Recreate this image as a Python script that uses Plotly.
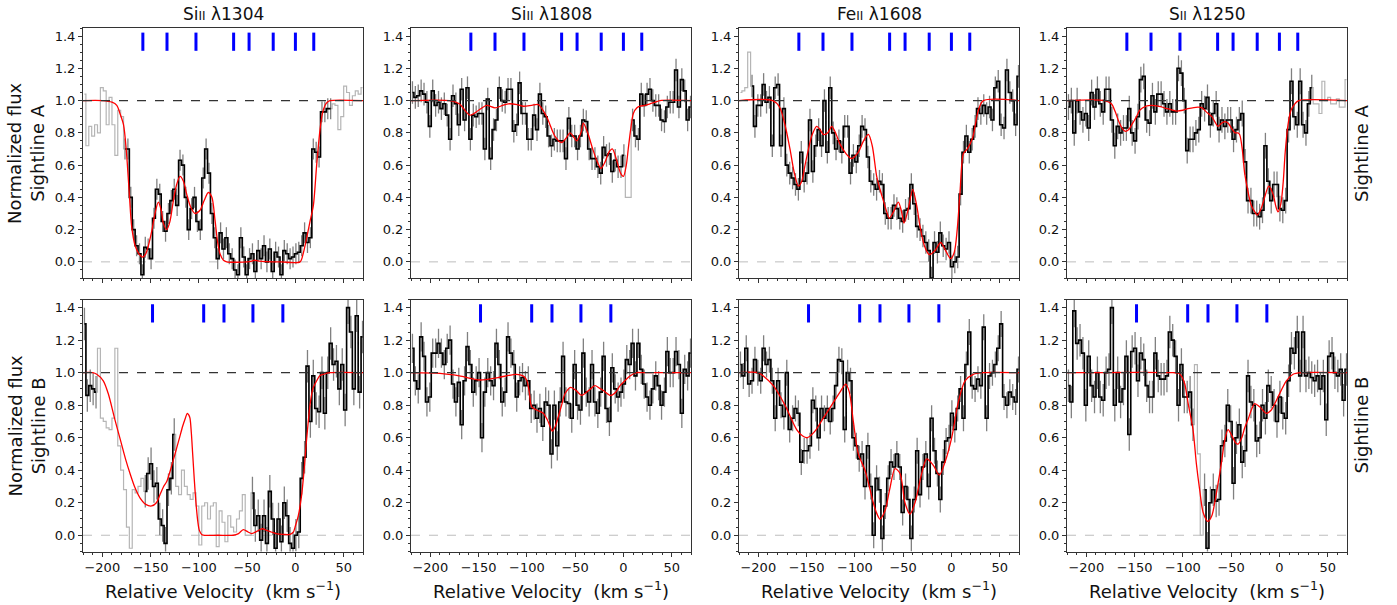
import plotly.graph_objects as go

W, H = 1397, 605

# ---------------- data ----------------
VEL_START = -218.5   # centre of the first velocity bin (km/s)
VEL_STEP = 3.0       # bin width (km/s)
N_BINS = 97
VEL = [VEL_START + VEL_STEP * i for i in range(N_BINS)]

LINE_TITLES = ["Si<span style='font-size:12px'>II</span> λ1304",
               "Si<span style='font-size:12px'>II</span> λ1808",
               "Fe<span style='font-size:12px'>II</span> λ1608",
               "S<span style='font-size:12px'>II</span> λ1250"]
SIGHTLINES = ["A", "B"]

COMP_A = [-158, -133, -103, -64, -48, -23, 0, 19]
COMP_B = [-148, -95, -74, -44, -13]

# normalized flux, sightline A
F_1A = [1.04, 0.72, 0.84, 0.78, 0.85, 0.80, 1.08, 1.06, 0.85, 1.02,
        0.85, 0.66, 0.94, 0.90, 0.70, 0.70, 0.40, 0.20, 0.10, 0.05,
        -0.08, 0.09, 0.08, 0.02, 0.27, 0.45, 0.42, 0.25, 0.19, 0.30,
        0.38, 0.45, 0.35, 0.63, 0.60, 0.40, 0.20, 0.33, 0.40, 0.25,
        0.20, 0.52, 0.70, 0.55, 0.30, 0.15, 0.02, 0.18, 0.08, 0.15,
        0.05, 0.02, -0.05, -0.08, 0.15, 0.03, -0.08, 0.02, 0.05, -0.06,
        0.07, 0.02, 0.10, 0.00, 0.08, -0.06, 0.06, 0.03, -0.08, 0.07,
        0.05, 0.02, 0.03, 0.05, 0.06, 0.10, 0.18, 0.12, 0.15, 0.70,
        0.68, 0.65, 0.93, 0.93, 0.95, 0.95, 0.98, 0.97, 0.82, 0.90,
        1.09, 1.05, 0.97, 1.03, 1.06, 1.04, 1.08]
F_2A = [1.05, 1.02, 1.03, 1.06, 1.04, 0.99, 0.84, 1.06, 0.97, 0.99,
        0.95, 0.98, 0.91, 0.76, 1.03, 0.98, 0.85, 1.07, 0.88, 1.08,
        0.76, 0.91, 0.90, 0.92, 0.92, 0.70, 1.01, 0.64, 0.82, 0.88,
        1.08, 1.00, 0.99, 1.07, 1.07, 0.81, 0.85, 1.11, 0.92, 0.92,
        0.76, 0.76, 0.91, 0.82, 1.04, 0.92, 0.90, 0.78, 0.72, 0.76,
        0.75, 0.75, 0.75, 0.64, 0.89, 0.78, 0.78, 0.70, 0.78, 0.88,
        0.87, 0.70, 0.64, 0.64, 0.59, 0.55, 0.71, 0.66, 0.67, 0.56,
        0.63, 0.59, 0.59, 0.66, 0.40, 0.40, 0.88, 0.78, 0.76, 1.04,
        0.97, 1.04, 1.07, 1.00, 0.97, 0.97, 0.88, 0.87, 0.96, 0.99,
        0.99, 1.19, 0.96, 1.13, 1.06, 0.88, 0.96]
F_3A = [1.05, 1.06, 1.08, 1.30, 1.09, 0.84, 0.97, 0.97, 1.10, 0.99,
        1.02, 0.72, 1.08, 1.10, 0.72, 0.95, 0.60, 0.55, 0.52, 0.48,
        0.45, 0.68, 0.50, 0.55, 0.88, 0.56, 0.72, 0.82, 0.72, 1.00,
        0.68, 1.08, 0.80, 0.70, 0.75, 0.68, 0.84, 0.84, 0.55, 0.66,
        0.62, 0.72, 0.84, 0.82, 0.65, 0.50, 0.48, 0.45, 0.50, 0.48,
        0.30, 0.27, 0.27, 0.35, 0.33, 0.27, 0.25, 0.32, 0.33, 0.48,
        0.36, 0.22, 0.20, 0.16, 0.12, 0.07, -0.10, 0.12, 0.06, 0.18,
        0.10, 0.08, 0.12, -0.03, 0.00, 0.03, 0.42, 0.68, 0.78, 0.68,
        0.76, 0.84, 0.95, 0.92, 0.97, 0.92, 0.96, 0.88, 1.08, 1.12,
        0.85, 0.83, 1.19, 1.05, 1.00, 0.85, 1.15]
F_4A = [0.96, 1.00, 0.80, 1.00, 0.93, 0.88, 0.92, 0.83, 1.05, 0.96,
        1.07, 0.98, 0.93, 1.07, 1.07, 0.88, 0.72, 0.84, 0.80, 0.83,
        0.83, 0.95, 0.80, 0.75, 0.90, 1.13, 1.15, 0.88, 0.86, 1.03,
        0.93, 1.04, 1.04, 0.98, 0.93, 0.98, 0.93, 0.93, 1.20, 1.17,
        1.00, 0.69, 0.76, 0.76, 0.80, 0.82, 0.98, 0.95, 1.02, 0.85,
        0.92, 0.98, 0.82, 0.88, 0.84, 0.88, 0.88, 0.76, 0.82, 0.88,
        0.92, 0.62, 0.38, 0.38, 0.30, 0.30, 0.28, 0.32, 0.72, 0.50,
        0.38, 0.48, 0.48, 0.33, 0.32, 0.38, 0.82, 1.12, 0.90, 0.85,
        1.12, 0.85, 0.80, 0.98, 1.08, 0.98, 0.98, 0.92, 1.12, 1.00,
        1.02, 0.98, 0.98, 1.01, 0.96, 0.96, 1.13]
# normalized flux, sightline B
F_1B = [1.30, 0.86, 0.92, 0.90, 0.88, 1.15, 0.72, 0.70, 0.66, 0.65,
        0.72, 1.15, 0.55, 0.40, 0.28, 0.05, -0.08, 0.28, 0.26, 0.30,
        0.35, 0.27, 0.38, 0.44, 0.30, 0.32, 0.10, 0.06, -0.05, 0.28,
        0.35, 0.62, 0.30, 0.25, 0.40, 0.30, 0.25, 0.22, 0.26, 0.18,
        -0.06, 0.18, 0.20, 0.10, 0.18, 0.20, -0.07, 0.15, 0.08, -0.04,
        0.12, 0.05, 0.02, 0.10, 0.15, 0.25, 0.00, 0.00, 0.26, 0.06,
        0.12, -0.03, 0.12, -0.05, 0.27, 0.10, -0.08, 0.10, -0.04, 0.20,
        0.12, -0.05, -0.08, 0.00, 0.02, 0.35, 0.48, 1.04, 0.70, 0.98,
        0.78, 0.76, 1.00, 0.75, 1.00, 1.18, 1.05, 1.07, 0.90, 1.05,
        0.77, 1.40, 1.25, 0.90, 1.35, 0.88, 1.22]
F_2B = [1.15, 0.95, 0.90, 1.22, 1.10, 0.82, 0.85, 1.12, 1.12, 1.18,
        1.12, 1.05, 1.15, 1.20, 0.93, 0.82, 0.94, 0.68, 0.95, 1.16,
        1.05, 0.88, 0.95, 1.00, 0.60, 0.88, 1.00, 0.95, 0.92, 1.18,
        1.05, 0.82, 0.88, 1.22, 1.12, 1.05, 0.85, 0.95, 0.97, 0.92,
        0.95, 0.78, 0.80, 0.72, 0.78, 0.67, 0.82, 0.80, 0.50, 0.80,
        0.55, 0.82, 1.10, 0.82, 0.81, 0.72, 1.05, 0.80, 0.77, 1.12,
        0.88, 0.82, 1.05, 0.82, 0.75, 0.88, 1.10, 0.78, 0.70, 1.03,
        0.90, 0.85, 0.88, 0.93, 1.08, 1.05, 1.18, 0.98, 1.18, 1.02,
        0.93, 0.85, 0.80, 0.90, 0.98, 0.92, 0.80, 0.88, 1.13, 1.00,
        1.00, 1.13, 1.05, 0.75, 1.02, 0.98, 1.12]
F_3B = [1.05, 0.98, 1.15, 0.93, 0.95, 1.08, 1.00, 0.95, 1.15, 1.05,
        1.08, 0.95, 0.72, 0.95, 0.80, 0.73, 1.00, 0.65, 0.72, 0.78,
        0.75, 0.45, 0.52, 0.52, 0.55, 0.83, 0.78, 0.60, 0.78, 0.72,
        0.78, 0.70, 0.78, 0.92, 1.08, 1.07, 0.65, 1.00, 0.95, 0.60,
        0.55, 0.47, 0.50, 0.30, 0.55, 0.30, 0.00, 0.35, 0.28, -0.02,
        0.18, 0.35, 0.45, 0.42, 0.50, 0.42, 0.14, 0.30, 0.22, -0.02,
        0.22, 0.52, 0.25, 0.42, 0.50, 0.30, 0.72, 0.52, 0.38, 0.22,
        0.45, 0.58, 0.60, 0.75, 0.65, 0.78, 0.90, 0.72, 1.05, 1.25,
        0.92, 0.90, 0.96, 0.92, 1.28, 0.72, 0.98, 1.00, 1.05, 1.15,
        1.30, 0.85, 0.80, 0.88, 0.85, 0.82, 1.02]
F_4B = [0.92, 0.82, 1.38, 1.18, 1.20, 1.12, 0.80, 1.10, 0.92, 0.85,
        1.00, 0.85, 0.83, 1.00, 1.02, 1.40, 0.80, 1.00, 0.82, 0.90,
        1.10, 0.62, 1.13, 1.15, 0.95, 1.12, 1.08, 0.92, 0.85, 0.85,
        1.12, 0.98, 0.96, 0.96, 0.98, 1.25, 1.20, 1.10, 0.80, 1.05,
        0.85, 0.85, 0.88, 0.68, 1.05, 0.50, 0.00, 0.28, -0.08, 0.20,
        0.28, 0.21, 0.22, 0.55, 0.58, 0.80, 0.70, 0.32, 0.60, 0.68,
        0.45, 0.52, 0.98, 0.82, 0.80, 0.58, 0.60, 0.80, 0.72, 0.92,
        0.88, 0.80, 0.70, 0.85, 0.75, 0.72, 0.95, 1.15, 1.12, 1.25,
        0.98, 1.25, 0.98, 1.00, 0.97, 0.95, 0.98, 0.90, 0.98, 0.71,
        1.10, 1.12, 1.00, 0.98, 1.02, 0.83, 1.02]

# 1-sigma flux uncertainty per panel
SIGMA = [0.065, 0.07, 0.07, 0.08, 0.10, 0.09, 0.08, 0.10]

# velocity ranges used in the fit (drawn black)
FIT_1A = [(-177, 37)]
FIT_2A = [(-220, 2), (8, 70)]
FIT_3A = [(-208, 70)]
FIT_4A = [(-220, 35)]
FIT_1B = [(-220, -205), (-157, -124), (-46, 70)]
FIT_2B = [(-220, 70)]
FIT_3B = [(-220, 70)]
FIT_4B = [(-220, -88), (-79, 70)]

# model profiles (velocity, normalized flux)
MV_1A = [-220, -200, -190, -185, -181.7, -178, -175, -172, -169.6, -166,
         -162, -158.2, -155, -152.3, -148.5, -145.4, -142, -139, -136.8, -133.3,
         -130, -126.4, -123, -119.5, -116, -112.6, -108.5, -104, -98.8, -94.5,
         -90.2, -86.5, -83.3, -80.5, -78.1, -74.5, -71.2, -50, -45, -42,
         -38, -15, 4.8, 8, 11, 15.1, 18.6, 22, 25.5, 28,
         30.6, 33, 35.8, 70]
MF_1A = [1.0, 1.0, 0.99, 0.97, 0.92, 0.85, 0.68, 0.42, 0.22, 0.1,
         0.05, 0.03, 0.05, 0.1, 0.2, 0.3, 0.37, 0.32, 0.24, 0.2,
         0.25, 0.38, 0.48, 0.53, 0.5, 0.42, 0.34, 0.30, 0.32, 0.38,
         0.43, 0.4, 0.26, 0.12, 0.05, 0.01, 0.0, 0.0, 0.005, 0.01,
         0.005, 0.0, 0.0, 0.05, 0.13, 0.25, 0.35, 0.6, 0.82, 0.92,
         0.97, 0.99, 1.0, 1.0]
MV_2A = [-220, -180, -170, -159, -150, -141.6, -133, -125, -119, -110,
         -103.6, -95, -88, -79.5, -71, -64, -59, -55.3, -51, -48.4,
         -44, -41.5, -37, -31.8, -27, -23.2, -19, -15, -11.5, -7,
         -3, 0, 3, 5, 7.5, 10.3, 14, 17.2, 22, 27.5,
         33, 37.9, 70]
MF_2A = [1.0, 1.0, 0.98, 0.91, 0.94, 0.97, 0.955, 0.97, 0.98, 0.975,
         0.965, 0.97, 0.975, 0.9, 0.78, 0.74, 0.77, 0.8, 0.77, 0.75,
         0.8, 0.86, 0.8, 0.7, 0.62, 0.58, 0.62, 0.68, 0.7, 0.63,
         0.55, 0.53, 0.6, 0.7, 0.82, 0.92, 0.955, 0.965, 0.97, 0.98,
         0.99, 1.0, 1.0]
MV_3A = [-220, -185, -178, -172.4, -167.2, -163, -158.5, -155, -151.6, -148,
         -144.7, -139.6, -136, -132.7, -128, -124, -120, -115.4, -109, -103.3,
         -96.4, -91, -86, -82, -77.4, -74, -70.5, -67, -64.3, -60,
         -55, -52, -49.1, -45, -40.1, -36, -32.5, -28, -22.9, -17,
         -11.1, -6, -0.8, 3, 6, 8.9, 12.4, 16.5, 22, 27.9,
         33.1, 70]
MF_3A = [1.0, 1.0, 0.96, 0.85, 0.7, 0.56, 0.47, 0.5, 0.6, 0.7,
         0.78, 0.84, 0.82, 0.79, 0.8, 0.84, 0.8, 0.73, 0.67, 0.64,
         0.68, 0.75, 0.79, 0.72, 0.53, 0.45, 0.38, 0.31, 0.27, 0.31,
         0.37, 0.32, 0.24, 0.32, 0.45, 0.35, 0.22, 0.1, 0.045, 0.07,
         0.12, 0.07, 0.02, 0.06, 0.2, 0.43, 0.67, 0.7, 0.77, 0.94,
         1.0, 1.0]
MV_4A = [-220, -181, -174, -170, -167, -163, -160, -156, -153, -148,
         -144.7, -138, -132.7, -125.7, -116, -106.8, -100, -94.7, -84.3, -80,
         -75.7, -70, -67, -63.6, -60, -56.7, -53, -49.8, -46, -43,
         -41.2, -38.5, -36, -32, -29.1, -25.5, -22.9, -19, -15.3, -11.1,
         -6.6, -3.5, -1.5, 1.5, 4, 6, 8.9, 12, 16, 20,
         70]
MF_4A = [1.0, 1.0, 0.98, 0.93, 0.88, 0.83, 0.81, 0.82, 0.85, 0.9,
         0.94, 0.965, 0.97, 0.965, 0.95, 0.935, 0.94, 0.95, 0.96, 0.955,
         0.93, 0.9, 0.87, 0.84, 0.86, 0.87, 0.86, 0.83, 0.8, 0.8,
         0.79, 0.7, 0.55, 0.42, 0.35, 0.31, 0.29, 0.33, 0.4, 0.47,
         0.42, 0.34, 0.31, 0.36, 0.5, 0.68, 0.85, 0.94, 0.98, 1.0,
         1.0]
MV_1B = [-220, -210, -205.8, -199, -193.8, -186.9, -181, -176, -171.3, -166,
         -161, -155, -148.9, -144, -140.2, -136.5, -133.3, -128.5, -124.7, -120,
         -116.8, -114, -112, -110.5, -109.2, -107.8, -106.4, -104.7, -103, -101,
         -99.5, -97, -95.4, -80, -64.3, -59, -54, -49, -45.3, -38,
         -34, -29.8, -25, -20, -12.5, -5.6, -2, -0.4, 3, 6.5,
         9, 11, 13, 15.1, 18, 22, 25, 28.9, 35.8, 70]
MF_1B = [1.0, 1.0, 0.99, 0.95, 0.87, 0.71, 0.58, 0.47, 0.38, 0.29,
         0.23, 0.19, 0.18, 0.2, 0.25, 0.3, 0.33, 0.42, 0.5, 0.6,
         0.67, 0.72, 0.75, 0.74, 0.72, 0.63, 0.5, 0.34, 0.2, 0.08,
         0.03, 0.005, 0.0, 0.0, 0.0, 0.01, 0.035, 0.02, 0.01, 0.03,
         0.04, 0.03, 0.02, 0.01, 0.005, 0.005, 0.02, 0.05, 0.12, 0.25,
         0.4, 0.55, 0.68, 0.8, 0.9, 0.95, 0.98, 0.99, 1.0, 1.0]
MV_2B = [-220, -190, -170, -148.5, -130, -110.6, -104, -100.2, -97.5, -95,
         -89.8, -82.9, -78, -73.6, -70.5, -67.4, -64, -60.5, -54.6, -49,
         -43.2, -36, -29.4, -25, -20.8, -13.2, -8, -3.5, 1.5, 6.8,
         13.7, 20, 70]
MF_2B = [1.0, 0.995, 0.98, 0.955, 0.97, 0.99, 0.98, 0.955, 0.88, 0.79,
         0.77, 0.75, 0.7, 0.64, 0.67, 0.73, 0.8, 0.87, 0.91, 0.89,
         0.86, 0.89, 0.92, 0.905, 0.89, 0.86, 0.88, 0.92, 0.95, 0.98,
         1.0, 1.0, 1.0]
MV_3B = [-220, -200, -194.8, -184.4, -172.4, -160.3, -154, -149.2, -141.3, -132.7,
         -124, -115.4, -109.5, -105.7, -101.6, -96.4, -89.5, -85, -80.9, -77,
         -74, -68.8, -64, -58.4, -53.2, -48.1, -42.9, -37.7, -30.8, -25.6,
         -18.7, -12.5, -6.6, 0.3, 7.2, 14.1, 22.7, 33.1, 70]
MF_3B = [1.0, 1.0, 0.98, 0.92, 0.8, 0.65, 0.61, 0.6, 0.64, 0.72,
         0.8, 0.88, 0.93, 0.88, 0.7, 0.5, 0.4, 0.3, 0.2, 0.13,
         0.1, 0.15, 0.28, 0.41, 0.38, 0.2, 0.13, 0.2, 0.38, 0.47,
         0.43, 0.37, 0.45, 0.6, 0.82, 0.95, 0.99, 1.0, 1.0]
MV_4B = [-220, -110, -104, -101, -98, -94.5, -89.5, -86, -82.6, -79,
         -74, -70, -67, -63.5, -60.2, -56.7, -53.2, -49, -45.5, -42.9,
         -39, -36, -32, -29.1, -25.6, -20.5, -13.5, -8.4, -1.5, 7.2,
         14.1, 22.7, 70]
MF_4B = [1.0, 1.0, 0.995, 0.975, 0.93, 0.81, 0.65, 0.44, 0.28, 0.14,
         0.085, 0.12, 0.2, 0.32, 0.44, 0.58, 0.65, 0.61, 0.57, 0.56,
         0.6, 0.66, 0.72, 0.77, 0.81, 0.79, 0.75, 0.77, 0.85, 0.95,
         0.99, 1.0, 1.0]

FLUX = [F_1A, F_2A, F_3A, F_4A, F_1B, F_2B, F_3B, F_4B]
FITS = [FIT_1A, FIT_2A, FIT_3A, FIT_4A, FIT_1B, FIT_2B, FIT_3B, FIT_4B]
MODEL_V = [MV_1A, MV_2A, MV_3A, MV_4A, MV_1B, MV_2B, MV_3B, MV_4B]
MODEL_F = [MF_1A, MF_2A, MF_3A, MF_4A, MF_1B, MF_2B, MF_3B, MF_4B]

for f in FLUX:
    assert len(f) == N_BINS, len(f)
for a, b in zip(MODEL_V, MODEL_F):
    assert len(a) == len(b), (len(a), len(b))

# ---------------- layout geometry (pixels) ----------------
COL_X = [(83, 363), (411, 691), (739, 1019), (1067, 1347)]
ROW_Y = [(28, 278), (299.5, 551.5)]
FONT = "DejaVu Sans"
AXCOL = "#333333"


def px_x(p):
    return p / W


def px_y(p):
    return 1 - p / H


fig = go.Figure()
layout = dict(width=W, height=H, margin=dict(l=0, r=0, t=0, b=0), autosize=False,
              paper_bgcolor="white", plot_bgcolor="white", showlegend=False,
              font=dict(family=FONT, color="#111111"))
shapes = []
annotations = []

for k in range(8):
    r, c = divmod(k, 4)
    sfx = "" if k == 0 else str(k + 1)
    xa, ya = "x" + sfx, "y" + sfx
    x0, x1 = COL_X[c]
    y0, y1 = ROW_Y[r]
    layout["xaxis" + sfx] = dict(
        domain=[px_x(x0), px_x(x1)], anchor=ya, range=[-220, 70],
        tickvals=[-200, -150, -100, -50, 0, 50], ticks="outside", ticklen=4,
        tickwidth=1, tickcolor=AXCOL, showline=True, linecolor=AXCOL, linewidth=1,
        mirror=True, showgrid=False, zeroline=False, showticklabels=(r == 1),
        tickfont=dict(size=13, family=FONT, color="#111111"),
        minor=dict(tick0=0, dtick=10, ticks="outside", ticklen=2, tickcolor=AXCOL))
    layout["yaxis" + sfx] = dict(
        domain=[px_y(y1), px_y(y0)], anchor=xa, range=[-0.1, 1.45],
        tickvals=[0, 0.2, 0.4, 0.6, 0.8, 1.0, 1.2, 1.4], tickformat=".1f",
        ticks="outside", ticklen=4, tickwidth=1, tickcolor=AXCOL, showline=True,
        linecolor=AXCOL, linewidth=1, mirror=True, showgrid=False, zeroline=False,
        tickfont=dict(size=13, family=FONT, color="#111111"),
        minor=dict(tick0=0, dtick=0.05, ticks="outside", ticklen=2, tickcolor=AXCOL))

    flux = FLUX[k]
    fit_mask = [any(lo <= v <= hi for lo, hi in FITS[k]) for v in VEL]
    black = [f if m else None for f, m in zip(flux, fit_mask)]

    # full spectrum in light grey
    fig.add_trace(go.Scatter(x=VEL, y=flux, mode="lines", line_shape="hvh",
                             line=dict(color="#b5b5b5", width=1.2),
                             xaxis=xa, yaxis=ya, hoverinfo="skip"))
    # fitted pixels in black with error bars
    fig.add_trace(go.Scatter(x=VEL, y=black, mode="lines", line_shape="hvh",
                             connectgaps=False, line=dict(color="black", width=1.6),
                             error_y=dict(type="constant", value=SIGMA[k],
                                          color="#808080", thickness=1.3, width=0),
                             xaxis=xa, yaxis=ya))
    # model
    fig.add_trace(go.Scatter(x=MODEL_V[k], y=MODEL_F[k], mode="lines",
                             line=dict(color="red", width=1.3, shape="spline",
                                       smoothing=0.8),
                             xaxis=xa, yaxis=ya))
    # component positions
    comps = COMP_A if r == 0 else COMP_B
    fig.add_trace(go.Scatter(x=comps, y=[1.365] * len(comps), mode="markers",
                             marker=dict(symbol="line-ns", size=13,
                                         line=dict(color="#0000ff", width=3)),
                             xaxis=xa, yaxis=ya))

    # reference lines
    shapes.append(dict(type="line", xref=xa + " domain", yref=ya, x0=0, x1=1,
                       y0=0, y1=0, line=dict(color="#bdbdbd", width=1, dash="dash"),
                       layer="below"))
    shapes.append(dict(type="line", xref=xa + " domain", yref=ya, x0=0, x1=1,
                       y0=1, y1=1, line=dict(color="#333333", width=1.1, dash="dash"),
                       layer="above"))

# column titles
for c in range(4):
    cx = (COL_X[c][0] + COL_X[c][1]) / 2
    annotations.append(dict(text=LINE_TITLES[c], x=px_x(cx), y=px_y(14),
                            xref="paper", yref="paper", showarrow=False,
                            xanchor="center", yanchor="middle",
                            font=dict(size=17, family=FONT, color="#111111")))
    annotations.append(dict(text="Relative Velocity\u00a0\u00a0(km s<sup>−1</sup>)",
                            x=px_x(cx), y=px_y(590), xref="paper", yref="paper",
                            showarrow=False, xanchor="center", yanchor="middle",
                            font=dict(size=18, family=FONT, color="#111111")))

for r in range(2):
    cy = (ROW_Y[r][0] + ROW_Y[r][1]) / 2
    annotations.append(dict(text="Normalized flux<br>Sightline " + SIGHTLINES[r],
                            x=px_x(26), y=px_y(cy), xref="paper", yref="paper",
                            showarrow=False, textangle=-90, xanchor="center",
                            yanchor="middle",
                            font=dict(size=18, family=FONT, color="#111111")))
    annotations.append(dict(text="Sightline " + SIGHTLINES[r],
                            x=px_x(1361), y=px_y(cy), xref="paper", yref="paper",
                            showarrow=False, textangle=-90, xanchor="center",
                            yanchor="middle",
                            font=dict(size=18, family=FONT, color="#111111")))

layout["shapes"] = shapes
layout["annotations"] = annotations
fig.update_layout(**layout)
fig.write_html("out.html", config={"displayModeBar": False},
               post_script="document.body.style.margin='0';"
                           "document.body.style.overflow='hidden';")
